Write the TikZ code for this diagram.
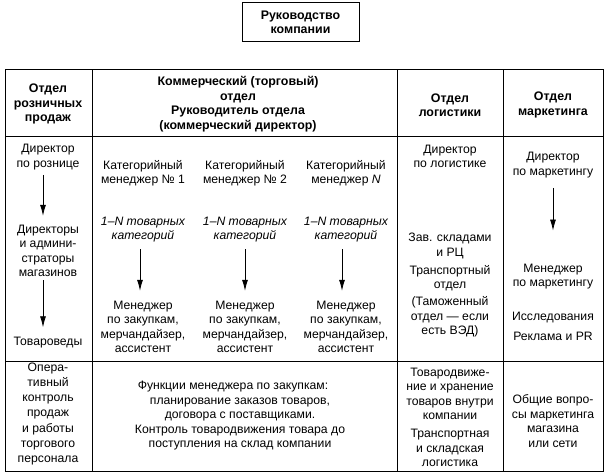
\documentclass[tikz,border=0pt]{standalone}
\usepackage{fontspec}
\setmainfont{Liberation Sans}
\usetikzlibrary{arrows.meta}

\begin{document}
\begin{tikzpicture}[x=1pt,y=-1pt,
    txt/.style={align=center,inner sep=0pt,font=\fontsize{12.2}{14.5}\selectfont},
    head/.style={txt,font=\fontsize{12.4}{14.5}\selectfont\bfseries},
    arr/.style={-{Latex[length=11pt,width=6pt]},line width=0.8pt},
    rule/.style={line width=1pt}]
    \useasboundingbox (0,0) rectangle (605,476);

    \node[head,draw,rule,minimum width=117pt,minimum height=39pt] (ruk) at (300.5,22.5) {Руководство\\компании};

    % table
    \draw[rule] (5,70) rectangle (603,471);
    \draw[rule] (5,137) -- (603,137);
    \draw[rule] (5,361) -- (603,361);
    \draw[rule] (92,70) -- (92,471);
    \draw[rule] (397,70) -- (397,471);
    \draw[rule] (503,70) -- (503,471);

    % header row
    \node[head] (hRozn) at (48,104) {Отдел\\розничных\\продаж};
    \node[head] (hKomm) at (238,104) {Коммерческий (торговый)\\отдел\\Руководитель отдела\\(коммерческий директор)};
    \node[head] (hLog) at (450,105) {Отдел\\логистики};
    \node[head] (hMark) at (553,105) {Отдел\\маркетинга};

    % retail
    \node[txt] (dirRozn) at (48,157) {Директор\\по рознице};
    \node[txt] (dirMag) at (48,251) {Директоры\\и админи-\\страторы\\магазинов};
    \node[txt] (tovar) at (48,343) {Товароведы};
    \draw[arr,shorten <=5pt,shorten >=9pt] ([xshift=-5pt]dirRozn.south) -- ([xshift=-5pt]dirMag.north);
    \draw[arr,shorten <=3pt,shorten >=10pt] ([xshift=-5pt]dirMag.south) -- ([xshift=-5pt]tovar.north);

    % commercial
    \node[txt] (kat1) at (143,173) {Категорийный\\менеджер № 1};
    \node[txt] (kat2) at (245,173) {Категорийный\\менеджер № 2};
    \node[txt] (kat3) at (346,173) {Категорийный\\менеджер \textit{N}};
    \node[txt,font=\fontsize{12.2}{14.5}\selectfont\itshape] (grp1) at (143,229.5) {1–N товарных\\категорий};
    \node[txt,font=\fontsize{12.2}{14.5}\selectfont\itshape] (grp2) at (245,229.5) {1–N товарных\\категорий};
    \node[txt,font=\fontsize{12.2}{14.5}\selectfont\itshape] (grp3) at (346,229.5) {1–N товарных\\категорий};
    \node[txt] (zak1) at (143,327) {Менеджер\\по закупкам,\\мерчандайзер,\\ассистент};
    \node[txt] (zak2) at (245,327) {Менеджер\\по закупкам,\\мерчандайзер,\\ассистент};
    \node[txt] (zak3) at (346,327) {Менеджер\\по закупкам,\\мерчандайзер,\\ассистент};
    \draw[arr,shorten <=7pt,shorten >=10pt] ([xshift=-3pt]grp1.south) -- ([xshift=-3pt]zak1.north);
    \draw[arr,shorten <=7pt,shorten >=10pt] (grp2.south) -- (zak2.north);
    \draw[arr,shorten <=7pt,shorten >=10pt] ([xshift=-4pt]grp3.south) -- ([xshift=-4pt]zak3.north);

    % logistics
    \node[txt] (dirLog) at (450,156.5) {Директор\\по логистике};
    \node[txt] (sklad) at (450,246) {Зав. складами\\и РЦ};
    \node[txt] (transp) at (450,278) {Транспортный\\отдел};
    \node[txt] (tamozh) at (450,317) {(Таможенный\\отдел — если\\есть ВЭД)};

    % marketing
    \node[txt] (dirMark) at (553,165) {Директор\\по маркетингу};
    \node[txt] (menMark) at (553,276.5) {Менеджер\\по маркетингу};
    \node[txt] (issl) at (553,318) {Исследования};
    \node[txt] (reklama) at (553,336) {Реклама и PR};
    \draw[arr,shorten <=10pt,shorten >=33pt] (dirMark.south) -- (menMark.north);

    % bottom row
    \node[txt,font=\fontsize{12.2}{15.2}\selectfont] (funRozn) at (48,414) {Опера-\\тивный\\контроль\\продаж\\и работы\\торгового\\персонала};
    \node[txt] (funKomm) at (240,416) {Функции менеджера по закупкам:\hspace*{14pt}\\планирование заказов товаров,\\договора с поставщиками.\\Контроль товародвижения товара до\\поступления на склад компании};
    \node[txt] (funLog1) at (450,394) {Товародвиже-\\ние и хранение\\товаров внутри\\компании};
    \node[txt] (funLog2) at (450,448) {Транспортная\\и складская\\логистика};
    \node[txt] (funMark) at (553,421) {Общие вопро-\\сы маркетинга\\магазина\\или сети};
\end{tikzpicture}
\end{document}
